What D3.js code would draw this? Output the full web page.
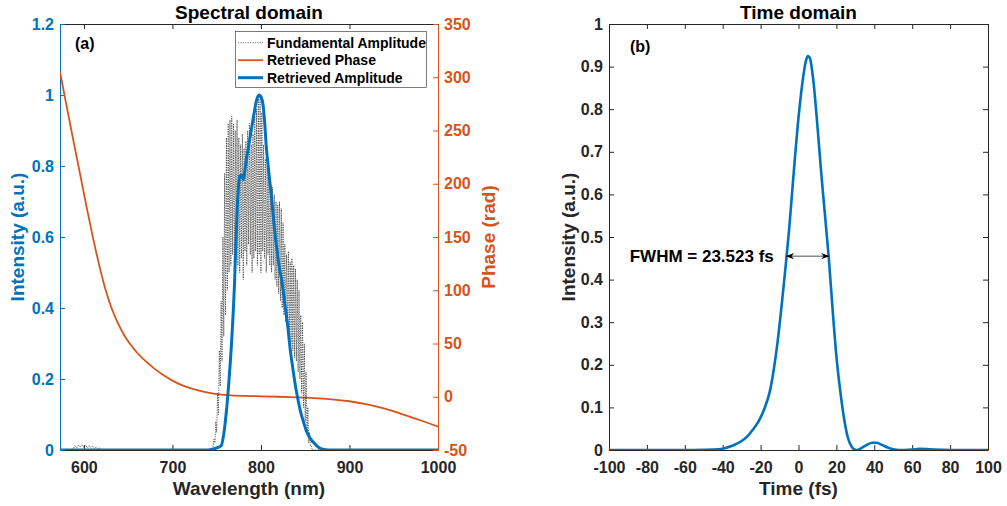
<!DOCTYPE html>
<html>
<head>
<meta charset="utf-8">
<script src="https://cdn.jsdelivr.net/npm/d3@7"></script>
<style>
  body { margin: 0; background: #fff; }
  text { font-family: Arial, "Liberation Sans", sans-serif; font-weight: bold; }
</style>
</head>
<body>
<svg id="chart"></svg>
<script>
// ---- spectral domain data ----
const specWl  = [573, 740, 745, 750, 755, 758, 761, 764, 767, 770, 773, 776, 778, 780, 783, 786, 789, 792, 795, 798, 800, 802, 804, 806, 809, 812, 815, 818, 821, 824, 827, 830, 833, 836, 839, 842, 845, 848, 851, 855, 860, 865, 870, 876, 1000];
const specAmp = [0, 0, 0.002, 0.006, 0.012, 0.045, 0.11, 0.2, 0.31, 0.46, 0.67, 0.77, 0.775, 0.762, 0.81, 0.855, 0.9, 0.945, 0.985, 1.0, 0.995, 0.978, 0.93, 0.855, 0.78, 0.71, 0.63, 0.565, 0.51, 0.47, 0.41, 0.355, 0.285, 0.23, 0.18, 0.14, 0.105, 0.08, 0.056, 0.035, 0.02, 0.008, 0.002, 0, 0];

const phaseWl  = [573, 580, 587, 595, 603, 610, 617, 624, 631, 638, 645, 652, 660, 670, 680, 690, 700, 710, 720, 730, 740, 750, 760, 780, 800, 820, 840, 860, 880, 900, 920, 940, 960, 980, 1000];
const phaseVal = [305, 275, 245, 212, 178, 150, 124, 101, 83, 69.5, 58, 49.5, 41, 33, 26, 20, 15, 11, 8, 5.6, 3.8, 2.4, 1.5, 0.7, 0.4, 0, -0.5, -1.2, -2.3, -4, -7, -11, -16.5, -22, -28];

// measured fundamental: low-level noise near 600 nm, dense fringes from 746 nm (1 nm steps)
const fundNoiseWl  = [573, 585, 588, 590, 592, 594, 596, 598, 600, 602, 604, 606, 608, 610, 612, 614, 616, 618, 620, 625, 745];
const fundNoiseAmp = [0, 0, 0.004, 0.012, 0.006, 0.014, 0.008, 0.015, 0.007, 0.013, 0.006, 0.012, 0.005, 0.01, 0.004, 0.009, 0.003, 0.006, 0.001, 0, 0];
const fundDenseStart = 746;
const fundDenseAmp = [
  0.01, 0.03, 0.02, 0.08, 0.05, 0.16, 0.10, 0.28, 0.18, 0.42,
  0.25, 0.60, 0.32, 0.78, 0.38, 0.88, 0.45, 0.92, 0.50, 0.93,
  0.52, 0.94, 0.55, 0.92, 0.50, 0.90, 0.56, 0.93, 0.52, 0.88,
  0.50, 0.86, 0.54, 0.89, 0.48, 0.85, 0.56, 0.87, 0.52, 0.90,
  0.58, 0.92, 0.55, 0.86, 0.50, 0.89, 0.54, 0.94, 0.56, 0.96,
  0.52, 0.99, 0.55, 1.00, 0.50, 0.95, 0.56, 0.86, 0.54, 0.82,
  0.50, 0.80, 0.55, 0.77, 0.52, 0.75, 0.50, 0.74, 0.52, 0.72,
  0.48, 0.70, 0.46, 0.69, 0.44, 0.70, 0.42, 0.68, 0.40, 0.64,
  0.38, 0.58, 0.36, 0.55, 0.34, 0.56, 0.30, 0.53, 0.30, 0.54,
  0.28, 0.52, 0.26, 0.51, 0.25, 0.48, 0.22, 0.45, 0.20, 0.38,
  0.16, 0.36, 0.12, 0.30, 0.08, 0.22, 0.05, 0.12, 0.02, 0.05,
  0.01, 0.01, 0.0
];
const fundTailWl  = [860, 1000];
const fundTailAmp = [0, 0];

// ---- time domain data ----
const timeFs  = [-100, -60, -50, -45, -40, -35, -30, -27, -24, -21, -18, -15, -13, -11, -9, -7, -5, -3, 0, 2, 4, 5, 6, 8, 10, 12, 14, 16, 18, 20, 22, 24, 26, 28, 30, 31, 33, 36, 39, 41, 44, 47, 50, 53, 56, 60, 64, 68, 72, 80, 100];
const timeInt = [0, 0, 0.0005, 0.001, 0.003, 0.01, 0.021, 0.032, 0.048, 0.068, 0.097, 0.14, 0.19, 0.255, 0.335, 0.422, 0.515, 0.625, 0.78, 0.86, 0.915, 0.925, 0.92, 0.86, 0.76, 0.65, 0.55, 0.45, 0.33, 0.22, 0.14, 0.075, 0.03, 0.008, 0.0005, 0, 0.004, 0.012, 0.017, 0.017, 0.012, 0.006, 0.002, 0, 0, 0.001, 0.003, 0.002, 0.001, 0, 0];
const fwhmEnds = [-6.7, 16.3];
const fwhmLevel = 0.455;
const fwhmLabel = "FWHM = 23.523 fs";

// ---- ticks / labels ----
const wlTicks = [600, 700, 800, 900, 1000];
const ampTicks = [0, 0.2, 0.4, 0.6, 0.8, 1, 1.2];
const phaseTicks = [-50, 0, 50, 100, 150, 200, 250, 300, 350];
const timeTicks = [-100, -80, -60, -40, -20, 0, 20, 40, 60, 80, 100];
const timeIntTicks = [0, 0.1, 0.2, 0.3, 0.4, 0.5, 0.6, 0.7, 0.8, 0.9, 1];
const legendNames = ["Fundamental Amplitude", "Retrieved Phase", "Retrieved Amplitude"];

const ink = "#262626", blue = "#0072BD", orange = "#D95319";

const svg = d3.select("#chart").attr("width", 1007).attr("height", 506);
const fmt = d => String(d);   // plain hyphen minus, no thousands separator

function styleAxis(g, color) {
  g.attr("color", color).style("font-size", "16px");
  g.selectAll("text").attr("fill", color).style("font-weight", "bold");
  g.select(".domain").attr("stroke-width", 1);
}

// ================= left panel =================
const xL = d3.scaleLinear().domain([573, 1000]).range([60, 438]);
const yL = d3.scaleLinear().domain([0, 1.2]).range([450, 24]);
const yR = d3.scaleLinear().domain([-50, 350]).range([450, 24]);

const defs = svg.append("defs");
defs.append("clipPath").attr("id", "clipL")
  .append("rect").attr("x", 60).attr("y", 24).attr("width", 378).attr("height", 426);
defs.append("clipPath").attr("id", "clipT")
  .append("rect").attr("x", 609).attr("y", 24).attr("width", 379).attr("height", 426);

const left = svg.append("g");

left.append("g").attr("transform", "translate(0,24)")
  .call(d3.axisTop(xL).tickValues(wlTicks).tickSize(-5).tickSizeOuter(0).tickFormat(""))
  .call(g => styleAxis(g, ink));
left.append("g").attr("transform", "translate(0,450)")
  .call(d3.axisBottom(xL).tickValues(wlTicks).tickSize(-5).tickSizeOuter(0).tickPadding(12).tickFormat(fmt))
  .call(g => styleAxis(g, ink));
left.append("g").attr("transform", "translate(60,0)")
  .call(d3.axisLeft(yL).tickValues(ampTicks).tickSize(-5).tickSizeOuter(0).tickPadding(6).tickFormat(fmt))
  .call(g => styleAxis(g, blue));
left.append("g").attr("transform", "translate(438,0)")
  .call(d3.axisRight(yR).tickValues(phaseTicks).tickSize(-5).tickSizeOuter(0).tickPadding(6).tickFormat(fmt))
  .call(g => styleAxis(g, orange));

const plotL = left.append("g").attr("clip-path", "url(#clipL)");

const phaseLine = d3.line().x(d => xL(d[0])).y(d => yR(d[1])).curve(d3.curveBasis);
plotL.append("path")
  .datum(phaseWl.map((w, i) => [w, phaseVal[i]]))
  .attr("d", phaseLine).attr("fill", "none").attr("stroke", orange).attr("stroke-width", 1.8);

const fundPts = fundNoiseWl.map((w, i) => [w, fundNoiseAmp[i]])
  .concat(fundDenseAmp.map((a, i) => [fundDenseStart + i, a]))
  .concat(fundTailWl.map((w, i) => [w, fundTailAmp[i]]));
const fundLine = d3.line().x(d => xL(d[0])).y(d => yL(d[1]));
plotL.append("path")
  .datum(fundPts)
  .attr("d", fundLine).attr("fill", "none").attr("stroke", "#333")
  .attr("stroke-width", 0.8).attr("stroke-dasharray", "1.2,1.2");

const ampLine = d3.line().x(d => xL(d[0])).y(d => yL(d[1])).curve(d3.curveMonotoneX);
plotL.append("path")
  .datum(specWl.map((w, i) => [w, specAmp[i]]))
  .attr("d", ampLine).attr("fill", "none").attr("stroke", blue).attr("stroke-width", 3);

// legend
const leg = left.append("g");
leg.append("rect").attr("x", 235.5).attr("y", 31.5).attr("width", 191).attr("height", 56)
  .attr("fill", "#fff").attr("stroke", ink).attr("stroke-width", 0.6);
const legStyles = [
  { stroke: "#555", width: 0.8, dash: "1.2,1.2" },
  { stroke: orange, width: 1.8, dash: null },
  { stroke: blue, width: 3, dash: null }
];
legendNames.forEach((name, i) => {
  const y = 42.7 + i * 17.5;
  leg.append("line").attr("x1", 238).attr("x2", 263).attr("y1", y).attr("y2", y)
    .attr("stroke", legStyles[i].stroke).attr("stroke-width", legStyles[i].width)
    .attr("stroke-dasharray", legStyles[i].dash);
  leg.append("text").attr("x", 267).attr("y", y + 5).attr("fill", "#000")
    .style("font-size", "14px").text(name);
});

left.append("text").attr("x", 75).attr("y", 49).attr("fill", "#000").style("font-size", "16px").text("(a)");
left.append("text").attr("x", 249).attr("y", 19).attr("text-anchor", "middle").attr("fill", "#000")
  .style("font-size", "19px").text("Spectral domain");
left.append("text").attr("x", 249).attr("y", 495).attr("text-anchor", "middle").attr("fill", ink)
  .style("font-size", "19px").text("Wavelength (nm)");
left.append("text").attr("transform", "translate(24,237) rotate(-90)").attr("text-anchor", "middle")
  .attr("fill", blue).style("font-size", "19px").text("Intensity (a.u.)");
left.append("text").attr("transform", "translate(495,237) rotate(-90)").attr("text-anchor", "middle")
  .attr("fill", orange).style("font-size", "19px").text("Phase (rad)");

// ================= right panel =================
const xT = d3.scaleLinear().domain([-100, 100]).range([609, 988]);
const yT = d3.scaleLinear().domain([0, 1]).range([450, 24]);

const right = svg.append("g");
right.append("g").attr("transform", "translate(0,24)")
  .call(d3.axisTop(xT).tickValues(timeTicks).tickSize(-5).tickSizeOuter(0).tickFormat(""))
  .call(g => styleAxis(g, ink));
right.append("g").attr("transform", "translate(0,450)")
  .call(d3.axisBottom(xT).tickValues(timeTicks).tickSize(-5).tickSizeOuter(0).tickPadding(12).tickFormat(fmt))
  .call(g => styleAxis(g, ink));
right.append("g").attr("transform", "translate(609,0)")
  .call(d3.axisLeft(yT).tickValues(timeIntTicks).tickSize(-5).tickSizeOuter(0).tickPadding(6).tickFormat(fmt))
  .call(g => styleAxis(g, ink));
right.append("g").attr("transform", "translate(988,0)")
  .call(d3.axisRight(yT).tickValues(timeIntTicks).tickSize(-5).tickSizeOuter(0).tickFormat(""))
  .call(g => styleAxis(g, ink));

const plotT = right.append("g").attr("clip-path", "url(#clipT)");
const timeLine = d3.line().x(d => xT(d[0])).y(d => yT(d[1])).curve(d3.curveMonotoneX);
plotT.append("path")
  .datum(timeFs.map((t, i) => [t, timeInt[i]]))
  .attr("d", timeLine).attr("fill", "none").attr("stroke", blue).attr("stroke-width", 2.6);

// FWHM double arrow
defs.append("marker").attr("id", "head").attr("viewBox", "0 0 10 10")
  .attr("refX", 10).attr("refY", 5).attr("markerWidth", 9).attr("markerHeight", 9)
  .attr("markerUnits", "userSpaceOnUse").attr("orient", "auto-start-reverse")
  .append("path").attr("d", "M1,1.5 L10,5 L1,8.5 L3.5,5 Z").attr("fill", "#000");
right.append("line")
  .attr("x1", xT(fwhmEnds[0])).attr("x2", xT(fwhmEnds[1]))
  .attr("y1", yT(fwhmLevel)).attr("y2", yT(fwhmLevel))
  .attr("stroke", "#000").attr("stroke-width", 0.7)
  .attr("marker-start", "url(#head)").attr("marker-end", "url(#head)");
right.append("text").attr("x", xT(fwhmEnds[0]) - 12).attr("y", yT(fwhmLevel) + 6)
  .attr("text-anchor", "end").attr("fill", "#000").style("font-size", "17px").text(fwhmLabel);

right.append("text").attr("x", 630).attr("y", 52).attr("fill", "#000").style("font-size", "16px").text("(b)");
right.append("text").attr("x", 798.5).attr("y", 19).attr("text-anchor", "middle").attr("fill", "#000")
  .style("font-size", "19px").text("Time domain");
right.append("text").attr("x", 798.5).attr("y", 495).attr("text-anchor", "middle").attr("fill", ink)
  .style("font-size", "19px").text("Time (fs)");
right.append("text").attr("transform", "translate(575,237) rotate(-90)").attr("text-anchor", "middle")
  .attr("fill", ink).style("font-size", "19px").text("Intensity (a.u.)");
</script>
</body>
</html>
